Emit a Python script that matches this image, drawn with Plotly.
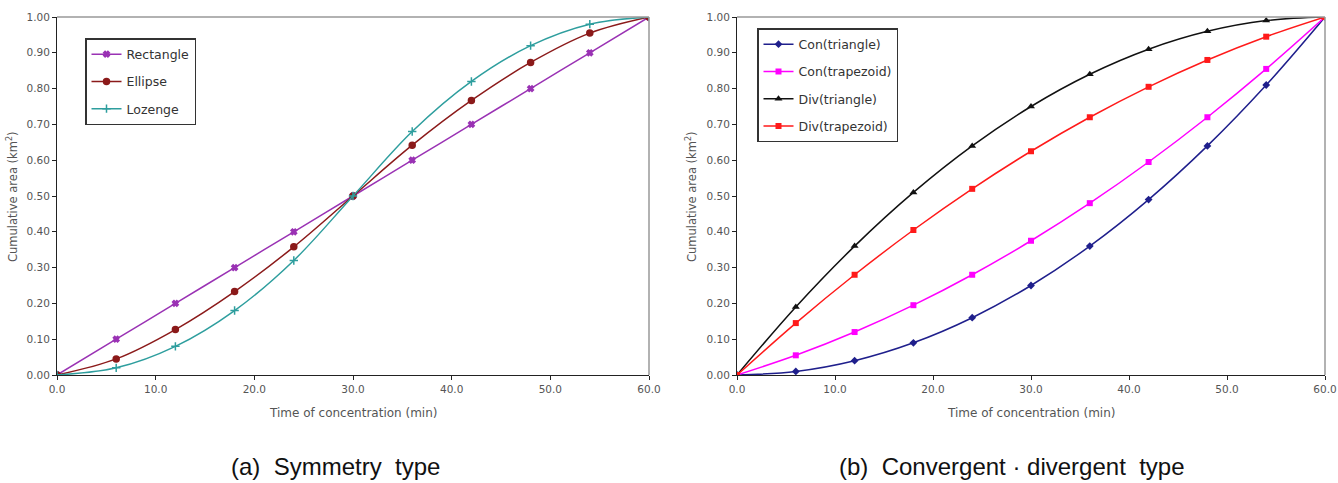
import plotly.graph_objects as go

# ---- data ----
time_min = [0, 6, 12, 18, 24, 30, 36, 42, 48, 54, 60]

rectangle = [0.00, 0.10, 0.20, 0.30, 0.40, 0.50, 0.60, 0.70, 0.80, 0.90, 1.00]
ellipse = [0.00, 0.045, 0.127, 0.233, 0.358, 0.50, 0.642, 0.767, 0.873, 0.955, 1.00]
lozenge = [0.00, 0.02, 0.08, 0.18, 0.32, 0.50, 0.68, 0.82, 0.92, 0.98, 1.00]

con_triangle = [0.00, 0.01, 0.04, 0.09, 0.16, 0.25, 0.36, 0.49, 0.64, 0.81, 1.00]
con_trapezoid = [0.00, 0.055, 0.12, 0.195, 0.28, 0.375, 0.48, 0.595, 0.72, 0.855, 1.00]
div_triangle = [0.00, 0.19, 0.36, 0.51, 0.64, 0.75, 0.84, 0.91, 0.96, 0.99, 1.00]
div_trapezoid = [0.00, 0.145, 0.28, 0.405, 0.52, 0.625, 0.72, 0.805, 0.88, 0.945, 1.00]

x_ticks = [0, 10, 20, 30, 40, 50, 60]
x_tick_labels = ["0.0", "10.0", "20.0", "30.0", "40.0", "50.0", "60.0"]
y_ticks = [i / 10 for i in range(11)]
y_tick_labels = ["%.2f" % v for v in y_ticks]

W, H = 1338, 483
FONT = "DejaVu Sans, Verdana, sans-serif"

fig = go.Figure()

left_series = [
    ("Rectangle", rectangle, "#9A32B4", "x", 5),
    ("Ellipse", ellipse, "#8B1A1A", "circle", 6),
    ("Lozenge", lozenge, "#2E9E9E", "cross-thin-open", 6),
]
right_series = [
    ("Con(triangle)", con_triangle, "#1F1F8C", "diamond", 6),
    ("Con(trapezoid)", con_trapezoid, "#FF00FF", "square", 6),
    ("Div(triangle)", div_triangle, "#111111", "triangle-up", 7),
    ("Div(trapezoid)", div_trapezoid, "#FF1A1A", "square", 6),
]

for name, vals, col, sym, sz in left_series:
    fig.add_trace(go.Scatter(
        x=time_min, y=vals, name=name, mode="lines+markers",
        line=dict(color=col, width=1.5, shape="spline"),
        marker=dict(symbol=sym, size=sz, color=col, line=dict(color=col, width=1.5)),
        xaxis="x", yaxis="y", legend="legend", legendgroup=name,
    ))
for name, vals, col, sym, sz in right_series:
    fig.add_trace(go.Scatter(
        x=time_min, y=vals, name=name, mode="lines+markers",
        line=dict(color=col, width=1.5, shape="spline"),
        marker=dict(symbol=sym, size=sz, color=col),
        xaxis="x2", yaxis="y2", legend="legend2", legendgroup=name,
    ))

def px_x(p):
    return p / W

def px_y(p):
    return 1 - p / H

ydom = [px_y(375), px_y(17)]

axis_common = dict(
    showgrid=False, zeroline=False, showline=True, linecolor="#222", linewidth=1,
    ticks="outside", ticklen=4, tickcolor="#222", automargin=False,
    tickfont=dict(family=FONT, size=10.5, color="#555"),
)

legend_common = dict(
    xanchor="left", yanchor="top", bordercolor="#333", borderwidth=1.5, bgcolor="white",
    font=dict(family=FONT, size=12.5, color="#333"), tracegroupgap=8, itemwidth=30,
)

fig.update_layout(
    width=W, height=H,
    margin=dict(l=0, r=0, t=0, b=0, pad=0, autoexpand=False),
    paper_bgcolor="white", plot_bgcolor="white",
    showlegend=True,
    xaxis=dict(domain=[px_x(57), px_x(649)], range=[0, 60], tickvals=x_ticks,
               ticktext=x_tick_labels, anchor="y", **axis_common),
    yaxis=dict(domain=ydom, range=[0, 1], tickvals=y_ticks, ticktext=y_tick_labels,
               anchor="x", **axis_common),
    xaxis2=dict(domain=[px_x(737), px_x(1325)], range=[0, 60], tickvals=x_ticks,
                ticktext=x_tick_labels, anchor="y2", **axis_common),
    yaxis2=dict(domain=ydom, range=[0, 1], tickvals=y_ticks, ticktext=y_tick_labels,
                anchor="x2", **axis_common),
    legend=dict(x=px_x(85), y=px_y(38), **legend_common),
    legend2=dict(x=px_x(757), y=px_y(28), **legend_common),
)

# gray top/right frame lines
for xr, yr in [("x", "y"), ("x2", "y2")]:
    fig.add_shape(type="line", xref=xr + " domain", yref=yr + " domain",
                  x0=0, x1=1, y0=1, y1=1, line=dict(color="#999", width=1.5))
    fig.add_shape(type="line", xref=xr + " domain", yref=yr + " domain",
                  x0=1, x1=1, y0=0, y1=1, line=dict(color="#999", width=1.5))

# axis titles & captions
ytitle = "Cumulative area (km<sup>2</sup>)"
for xc in (12, 691):
    fig.add_annotation(text=ytitle, xref="paper", yref="paper", x=px_x(xc), y=px_y(197),
                       xanchor="center", yanchor="middle",
                       showarrow=False, textangle=-90,
                       font=dict(family=FONT, size=11.5, color="#555"))
for xc in (353, 1031):
    fig.add_annotation(text="Time of concentration (min)", xref="paper", yref="paper",
                       x=px_x(xc), y=px_y(413), xanchor="center", yanchor="middle",
                       showarrow=False,
                       font=dict(family=FONT, size=12, color="#555"))

CAP_FONT = "Liberation Sans, Arial, sans-serif"
fig.add_annotation(text="(a)  Symmetry  type", xref="paper", yref="paper",
                   x=px_x(335), y=px_y(466), xanchor="center", yanchor="middle",
                   showarrow=False,
                   font=dict(family=CAP_FONT, size=24, color="#111"))
fig.add_annotation(text="(b)  Convergent · divergent  type", xref="paper", yref="paper",
                   x=px_x(1012), y=px_y(466), xanchor="center", yanchor="middle",
                   showarrow=False,
                   font=dict(family=CAP_FONT, size=24, color="#111"))

fig.write_html("out.html")
